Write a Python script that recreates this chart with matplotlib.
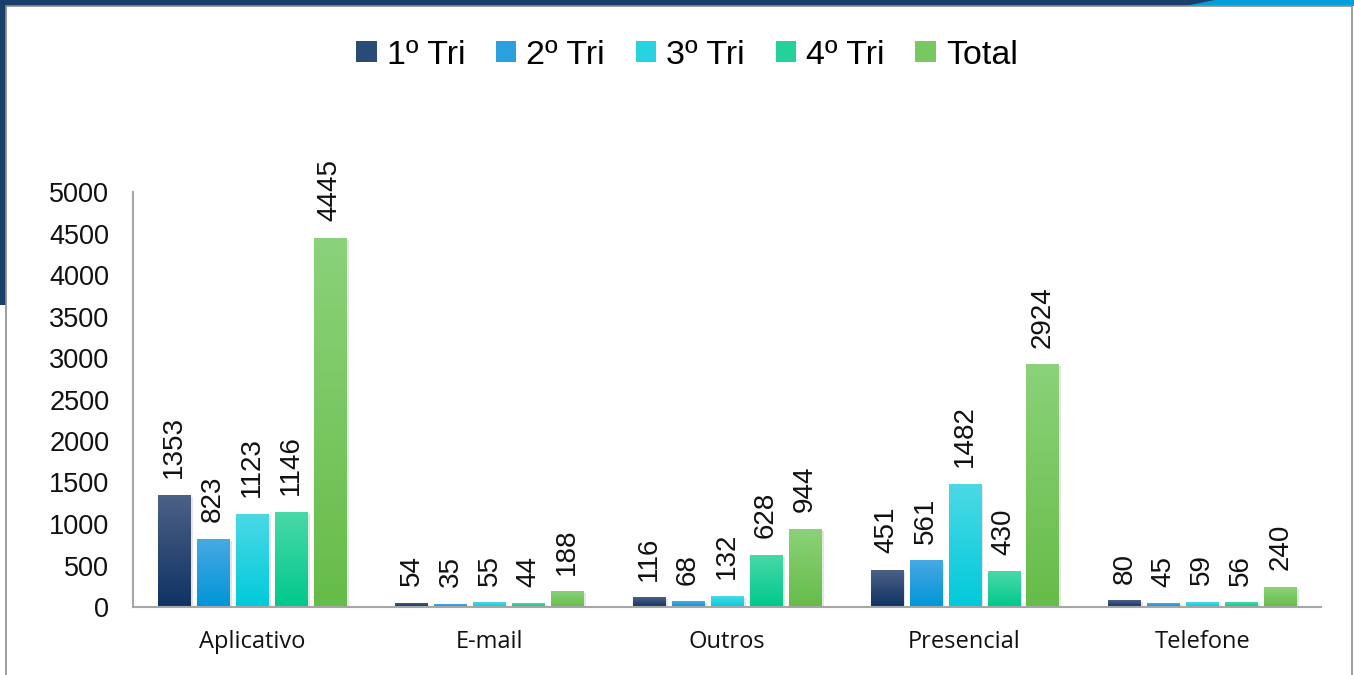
import matplotlib
matplotlib.use("Agg")
import matplotlib.pyplot as plt
import matplotlib.patches as mpatches
import matplotlib.patheffects as pe
import numpy as np
from matplotlib.colors import LinearSegmentedColormap

categories = ["Aplicativo", "E-mail", "Outros", "Presencial", "Telefone"]
series_names = ["1º Tri", "2º Tri", "3º Tri", "4º Tri", "Total"]
tri1 = [1353, 54, 116, 451, 80]
tri2 = [823, 35, 68, 561, 45]
tri3 = [1123, 55, 132, 1482, 59]
tri4 = [1146, 44, 628, 430, 56]
total = [4445, 188, 944, 2924, 240]
series_values = [tri1, tri2, tri3, tri4, total]
y_ticks = [0, 500, 1000, 1500, 2000, 2500, 3000, 3500, 4000, 4500, 5000]

top_colors = ["#4d6186", "#48a9e3", "#4cd9e5", "#49d9a9", "#8bd27a"]
bot_colors = ["#0e3363", "#0095d8", "#00cadb", "#00c88b", "#66bc48"]
mid_colors = ["#2a4a78", "#2aa0de", "#28d3e0", "#25d19a", "#78c862"]

W, H = 1354, 675
fig = plt.figure(figsize=(W / 100, H / 100), dpi=100)
fig.patch.set_facecolor("white")

# frame decoration
fig.patches.append(mpatches.Rectangle((0, (H - 305) / H), 6 / W, 305 / H, transform=fig.transFigure,
                                      facecolor="#1b3f6b", edgecolor="none", zorder=-5))
fig.patches.append(mpatches.Rectangle((0, (H - 6) / H), 1, 6 / H, transform=fig.transFigure,
                                      facecolor="#1b3f6b", edgecolor="none", zorder=-5))
fig.patches.append(mpatches.Polygon([(1185 / W, (H - 6) / H), (1215 / W, 1), (1, 1), (1, (H - 6) / H)],
                                    closed=True, transform=fig.transFigure,
                                    facecolor="#00a0dc", edgecolor="none", zorder=-4))
fig.patches.append(mpatches.Rectangle((6 / W, -0.01), (W - 8) / W, (H - 6) / H + 0.01, transform=fig.transFigure,
                                      facecolor="white", edgecolor="#8c8c8c", linewidth=1.2, zorder=-3))

ax = fig.add_axes([133 / W, (H - 607) / H, (1321 - 133) / W, (607 - 192) / H])
ax.set_facecolor("none")

n = len(series_names)
x = np.arange(len(categories))
pitch = 0.164
width = 0.135

legend_handles = []
for i, (name, vals) in enumerate(zip(series_names, series_values)):
    offs = (i - (n - 1) / 2) * pitch
    bars = ax.bar(x + offs, vals, width, color=mid_colors[i], zorder=2,
                  path_effects=[pe.SimplePatchShadow(offset=(2, -1.5), alpha=0.15, shadow_rgbFace="#555555"),
                                pe.Normal()])
    cmap = LinearSegmentedColormap.from_list("g%d" % i, [bot_colors[i], top_colors[i]])
    grad = np.linspace(0, 1, 256).reshape(-1, 1)
    for b, v in zip(bars, vals):
        x0 = b.get_x()
        im = ax.imshow(grad, cmap=cmap, origin="lower", aspect="auto",
                       extent=(x0, x0 + b.get_width(), 0, v), zorder=3)
        im.set_clip_path(b)
        ax.annotate(str(v), (b.get_x() + b.get_width() / 2, v), xytext=(0, 12),
                    textcoords="offset points", rotation=90, ha="center", va="bottom",
                    fontsize=20, family=["Liberation Sans", "DejaVu Sans"], color="#111111")
    legend_handles.append(mpatches.Patch(facecolor=mid_colors[i], edgecolor="none", label=name))

ax.set_xlim(-0.5, len(categories) - 0.5)
ax.set_ylim(0, 5000)
ax.set_yticks(y_ticks)
ax.set_yticklabels([str(t) for t in y_ticks], fontsize=19.5, family=["Liberation Sans", "DejaVu Sans"],
                   color="#111111")
ax.set_xticks(x)
ax.set_xticklabels(categories, fontsize=17, family=["Open Sans", "DejaVu Sans"], color="#111111")
ax.tick_params(axis="y", length=0, pad=17)
ax.tick_params(axis="x", length=0, pad=16.5)
for s in ["top", "right"]:
    ax.spines[s].set_visible(False)
for s in ["left", "bottom"]:
    ax.spines[s].set_color("#a6a6a6")
    ax.spines[s].set_linewidth(1.5)
    ax.spines[s].set_zorder(4)

fig.legend(handles=legend_handles, loc="center", bbox_to_anchor=(687 / W, (H - 55) / H),
           ncol=5, frameon=False, prop={"family": ["Liberation Sans", "DejaVu Sans"], "size": 24.5},
           handlelength=0.6, handleheight=0.6, handletextpad=0.3, columnspacing=0.9)

fig.savefig("out.png", dpi=100)
